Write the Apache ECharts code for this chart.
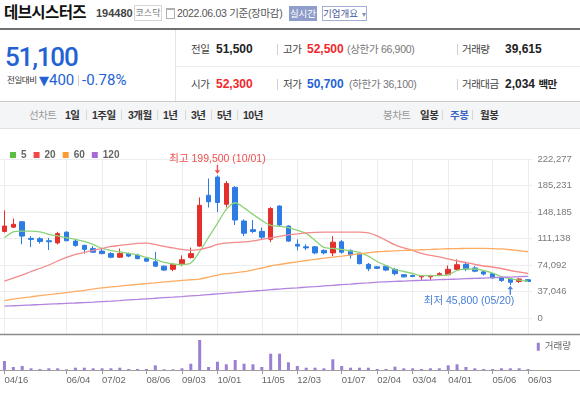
<!DOCTYPE html>
<html lang="ko">
<head>
<meta charset="utf-8">
<script src="https://cdn.jsdelivr.net/npm/echarts@6/dist/echarts.min.js"></script>
<style>
html,body{margin:0;padding:0;background:#fff;width:580px;height:397px;overflow:hidden;}
body{position:relative;font-family:"Liberation Sans",Arial,"Noto Sans CJK KR",sans-serif;color:#333;}
.a{position:absolute;white-space:nowrap;}
.lb{font-size:10.5px;color:#444;letter-spacing:-0.5px;line-height:16px;}
.vl{font-size:12px;font-weight:bold;color:#222;line-height:16px;}
.sub{font-size:10.5px;color:#777;letter-spacing:-0.3px;line-height:16px;}
.sep{width:1px;height:11px;background:#d0d0d0;}
.tb{font-size:10.5px;font-weight:bold;color:#333;letter-spacing:-0.5px;line-height:16px;top:107px;}
.tg{font-size:10.5px;color:#999;letter-spacing:-0.5px;line-height:16px;top:107px;}
.ts{width:1px;height:10px;background:#d8d8d8;top:110px;}
#chart{position:absolute;left:0;top:128px;width:580px;height:269px;}
</style>
</head>
<body>
<!-- 종목 제목 -->
<div class="a" style="left:4px;top:2px;font-size:15.5px;font-weight:bold;color:#111;letter-spacing:-0.6px;line-height:22px">데브시스터즈</div>
<div class="a" style="left:96px;top:6px;font-size:11px;font-weight:bold;color:#444;line-height:15px">194480</div>
<div class="a" style="left:134px;top:5px;width:26px;height:14px;border:1px solid #d5d5d5;font-size:9px;color:#777;line-height:14px;text-align:center">코스닥</div>
<div class="a" style="left:166px;top:8px;width:7px;height:8px;border:1px solid #b0b0b0;border-top:2px solid #b0b0b0"></div>
<div class="a" style="left:177px;top:6px;font-size:10.5px;color:#555;letter-spacing:-0.3px;line-height:15px">2022.06.03 기준(장마감)</div>
<div class="a" style="left:289px;top:6px;width:28px;height:15px;background:#8e9dc9;color:#fff;font-size:9.5px;line-height:15px;text-align:center">실시간</div>
<div class="a" style="left:322px;top:6px;width:43px;height:13px;border:1px solid #a3aed4;color:#4a5a9a;font-size:9.5px;line-height:13px;text-align:center">기업개요 <span style="font-size:7px;color:#8a96c0">▼</span></div>
<div class="a" style="left:0;top:28px;width:580px;height:2px;background:#707070"></div>

<!-- 시세 -->
<div class="a" style="left:175px;top:30px;width:1px;height:72px;background:#e3e3e3"></div>
<div class="a" style="left:176px;top:66px;width:404px;height:1px;background:#ececec"></div>
<div class="a" style="left:5px;top:40px;font-family:Roboto;font-size:26px;font-weight:500;color:#2462d4;letter-spacing:-1.2px;line-height:34px">51,100</div>
<div class="a" style="left:7px;top:73px;font-size:8.5px;color:#333;line-height:14px;letter-spacing:-0.4px">전일대비</div>
<div class="a" style="left:39px;top:70px;font-family:Roboto;font-size:15px;color:#2462d4;line-height:20px"><span style="font-size:13px;font-family:'DejaVu Sans'">▼</span>400</div>
<div class="a sep" style="left:78px;top:75px"></div>
<div class="a" style="left:82px;top:70px;font-family:Roboto;font-size:15px;color:#2462d4;line-height:20px">-0.78%</div>

<div class="a lb" style="left:191px;top:41px">전일</div>
<div class="a vl" style="left:216px;top:41px">51,500</div>
<div class="a sep" style="left:277px;top:44px"></div>
<div class="a lb" style="left:283px;top:41px">고가</div>
<div class="a vl" style="left:307px;top:41px;color:#f0282d">52,500</div>
<div class="a sub" style="left:347px;top:41px">(상한가 66,900)</div>
<div class="a sep" style="left:457px;top:44px"></div>
<div class="a lb" style="left:462px;top:41px">거래량</div>
<div class="a vl" style="left:505px;top:41px">39,615</div>

<div class="a lb" style="left:191px;top:76px">시가</div>
<div class="a vl" style="left:216px;top:76px;color:#f0282d">52,300</div>
<div class="a sep" style="left:277px;top:79px"></div>
<div class="a lb" style="left:283px;top:76px">저가</div>
<div class="a vl" style="left:307px;top:76px;color:#2462d4">50,700</div>
<div class="a sub" style="left:349px;top:76px">(하한가 36,100)</div>
<div class="a sep" style="left:457px;top:79px"></div>
<div class="a lb" style="left:462px;top:76px">거래대금</div>
<div class="a vl" style="left:505px;top:76px">2,034 <span style="font-weight:bold;font-size:10.5px;letter-spacing:-0.5px">백만</span></div>

<!-- 기간 선택 -->
<div class="a" style="left:0;top:101px;width:580px;height:26px;background:#f4f5f7;border-top:1px solid #c9c9c9;border-bottom:1px solid #e2e2e2"></div>
<div class="a tg" style="left:29px">선차트</div>
<div class="a tb" style="left:65px">1일</div>
<div class="a ts" style="left:86px"></div>
<div class="a tb" style="left:92px">1주일</div>
<div class="a ts" style="left:121px"></div>
<div class="a tb" style="left:128px">3개월</div>
<div class="a ts" style="left:157px"></div>
<div class="a tb" style="left:163px">1년</div>
<div class="a ts" style="left:185px"></div>
<div class="a tb" style="left:191px">3년</div>
<div class="a ts" style="left:211px"></div>
<div class="a tb" style="left:217px">5년</div>
<div class="a ts" style="left:237px"></div>
<div class="a tb" style="left:243px">10년</div>
<div class="a tg" style="left:383px">봉차트</div>
<div class="a tb" style="left:420px">일봉</div>
<div class="a ts" style="left:442px"></div>
<div class="a tb" style="left:450px;color:#3b63c4">주봉</div>
<div class="a ts" style="left:472px"></div>
<div class="a tb" style="left:480px">월봉</div>

<div id="chart"></div>
<script>
// 주봉 (week ending)
var weeks = ['04/16','04/23','04/30','05/07','05/14','05/21','05/28','06/04','06/11','06/18',
  '06/25','07/02','07/09','07/16','07/23','07/30','08/06','08/13','08/20','08/27',
  '09/03','09/10','09/17','09/24','10/01','10/08','10/15','10/22','10/29','11/05',
  '11/12','11/19','11/26','12/03','12/10','12/17','12/24','12/31','01/07','01/14',
  '01/21','01/28','02/04','02/11','02/18','02/25','03/04','03/11','03/18','03/25',
  '04/01','04/08','04/15','04/22','04/29','05/06','05/13','05/20','05/27','06/03'];
var tickDates = ['04/16','06/04','07/02','08/06','09/03','10/01','11/05','12/03','01/07','02/04','03/04','04/01','05/06','06/03'];
var priceTicks = ['0','37,046','74,092','111,138','148,185','185,231','222,277'];
var priceMax = 222277;

var opens = [121000,127000,134500,111300,110800,108000,105000,120000,107500,101500,
  97000,93500,90000,85000,90000,88000,83000,78500,72500,68000,
  75000,84500,100500,171500,197000,159000,182500,135500,123500,121000,
  110000,156500,128500,103000,99500,99500,94500,91000,106500,94500,
  90000,75000,71500,72500,68000,60500,59500,57500,57500,60500,
  60500,68000,75000,70000,64500,62000,56000,54500,51000,53500];
var closes = [128500,131000,114500,109900,107000,106600,118000,108000,101500,96000,
  92000,90000,85000,90000,86500,83000,79500,72500,67000,75000,
  81500,90000,157500,162500,161500,188000,137000,118500,121000,113000,
  153000,130000,107500,100500,98000,91000,91000,106000,92000,88000,
  76000,69000,69500,67000,62000,57500,58000,58500,59500,62000,
  68000,74500,68000,65500,61500,56000,52500,50000,54500,51100];
var lows = [119500,126000,103000,99000,104000,95000,103000,107500,99500,90000,
  91500,89000,83500,84000,85000,82000,78500,71500,66000,65500,
  72500,83000,99500,154500,148000,154500,130000,114500,118500,110000,
  106000,128500,106500,94500,95000,89000,89000,86500,90000,83000,
  75000,65500,68500,65500,59500,56500,57500,53000,53000,59500,
  60000,67000,65500,64000,59500,55500,50500,45800,49000,50500];
var highs = [150500,139000,135500,114500,113000,112000,120500,121000,110500,102500,
  100500,97000,92000,97000,91500,90000,85000,92500,73500,77000,
  87500,98500,168500,195000,199500,191500,184500,138000,137000,126500,
  155000,157500,129500,110000,103000,100500,96000,114500,109000,96000,
  91000,77000,72500,74000,70000,61000,60500,59000,60500,64000,
  73500,82000,77000,72500,66500,63000,58500,56000,56000,54000];

// 이동평균선
var ma5 = [112200,120400,121500,121500,120400,116900,114800,112200,109900,107000,
  102800,97200,94400,92300,90200,88100,84600,81800,77600,75500,
  74800,76900,93000,112700,132300,151900,161100,154000,144900,136500,
  129500,128100,126300,122500,118300,108500,98600,97200,95800,93700,
  91600,86400,79000,73400,67800,65000,62200,59300,59300,59300,
  60700,66400,68500,68500,66400,62900,57900,55100,52800,51400];
var ma20 = [51600,55800,60000,65000,69200,74100,79700,84600,88800,91600,
  94400,97200,100000,101400,102800,104200,104700,102800,100000,97900,
  95800,94400,95800,98600,102800,104900,105600,106300,107800,109900,
  112000,114100,116200,117600,119000,119700,120000,120100,120100,120100,
  120100,119000,114800,108500,102100,97900,94400,90200,87400,85300,
  82500,79700,77600,74800,72700,71300,69200,66400,64300,62200];
var ma60 = [24300,26400,28100,29600,31300,32700,34100,35500,37200,38700,
  40400,42100,43400,44600,45900,47000,48100,49200,50400,51500,
  52500,53500,54400,57200,60000,61900,63300,64700,67100,69900,
  72700,74800,76900,78600,80400,82100,83600,85200,86600,88100,
  89800,91200,92600,93300,93900,94400,95000,95400,95800,96400,
  96800,97100,97200,97200,97200,97100,96500,95400,94000,92600];
var ma120 = [16600,17100,17700,18200,18800,19400,19900,20500,21000,21600,
  22200,22900,23600,24400,25300,26000,26800,27600,28500,29200,
  30000,30900,31700,32700,33700,34700,35600,36600,37600,38600,
  39700,40500,41400,42200,43100,43900,44800,45700,46600,47400,
  48300,49100,50100,50600,51200,51600,52200,52600,53000,53600,
  54000,54400,55000,55400,55800,56400,56800,57200,57800,58200];

var volumes = [1800000,600000,800000,340000,200000,340000,340000,140000,460000,460000,
  340000,340000,340000,460000,200000,200000,200000,940000,140000,140000,
  340000,1260000,6000000,600000,1660000,1140000,2000000,1260000,1140000,600000,
  3260000,3260000,1540000,800000,460000,460000,340000,2140000,800000,460000,
  460000,460000,200000,200000,660000,340000,340000,200000,340000,340000,
  940000,1140000,600000,340000,200000,200000,340000,340000,340000,200000];

var highDate = '10/01', highPrice = 199500;
var lowDate = '05/20', lowPrice = 45800;

var upColor = '#e3302d', downColor = '#2d7be4';

function comma(v) { return String(v).replace(/\B(?=(\d{3})+(?!\d))/g, ','); }
function isTick(index, value) { return tickDates.indexOf(value) >= 0; }

var candles = weeks.map(function (d, i) { return [opens[i], closes[i], lows[i], highs[i]]; });

var dom = document.getElementById('chart');
var myChart = echarts.init(dom);
var option = {
    animation: false,
    textStyle: { fontFamily: '"Liberation Sans", Arial, "Noto Sans CJK KR", sans-serif' },
    legend: [{
        data: ['5', '20', '60', '120'],
        left: 5, top: 17,
        icon: 'rect', itemWidth: 6, itemHeight: 6, itemGap: 7,
        selectedMode: false,
        textStyle: { color: '#666', fontSize: 10, fontWeight: 'bold' }
    }, {
        data: ['거래량'],
        right: 4, top: 209,
        icon: 'rect', itemWidth: 3, itemHeight: 8,
        selectedMode: false,
        textStyle: { color: '#666', fontSize: 9.5 }
    }],
    grid: [
        { left: 0, right: 47.5, top: 31, bottom: 79 },          // 가격
        { left: 4.4375, right: 51.9375, top: 31, bottom: 63 },  // 세로 격자
        { left: 0, right: 47.5, top: 212, bottom: 27 }          // 거래량
    ],
    xAxis: [{
        type: 'category', gridIndex: 0, data: weeks,
        axisLine: { show: false }, axisTick: { show: false }, axisLabel: { show: false }, splitLine: { show: false }
    }, {
        type: 'category', gridIndex: 1, data: weeks, boundaryGap: false,
        axisLine: { show: false }, axisTick: { show: false }, axisLabel: { show: false },
        splitLine: { show: true, interval: isTick, lineStyle: { color: '#ededed', width: 1 } }
    }, {
        type: 'category', gridIndex: 2, data: weeks,
        axisLine: { show: false },
        axisTick: { show: true, interval: isTick, alignWithLabel: true, length: 4, lineStyle: { color: '#999' } },
        axisLabel: { interval: isTick, align: 'left', margin: 6, color: '#666', fontSize: 9.5 },
        splitLine: { show: false }
    }],
    yAxis: [{
        type: 'value', gridIndex: 0, position: 'right',
        min: 0, max: priceMax, interval: priceMax / 6,
        axisLine: { show: false }, axisTick: { show: false },
        axisLabel: {
            margin: 5, color: '#7a7a7a', fontSize: 9.5,
            formatter: function (v) { return priceTicks[Math.round(v / (priceMax / 6))]; }
        },
        splitLine: { lineStyle: { color: '#ededed' } }
    }, {
        type: 'value', gridIndex: 1, show: false
    }, {
        type: 'value', gridIndex: 2, show: false, min: 0, max: 'dataMax'
    }],
    graphic: [
        { type: 'line', shape: { x1: 0, y1: 206.5, x2: 580, y2: 206.5 }, style: { stroke: '#8c8c8c', lineWidth: 1.5 }, z: 10 },
        { type: 'line', shape: { x1: 0, y1: 242.5, x2: 580, y2: 242.5 }, style: { stroke: '#a0a0a0', lineWidth: 1 }, z: 10 }
    ],
    series: [{
        name: '주봉', type: 'candlestick', xAxisIndex: 0, yAxisIndex: 0,
        data: candles, barWidth: 5,
        itemStyle: { color: upColor, color0: downColor, borderColor: upColor, borderColor0: downColor, borderWidth: 1 },
        markPoint: {
            symbolKeepAspect: true,
            data: [{
                coord: [highDate, highPrice],
                symbol: 'path://M3,0 L5,0 L5,6 L8,6 L4,10 L0,6 L3,6 Z',
                symbolSize: [7, 9], symbolOffset: [0, -6],
                itemStyle: { color: '#f04f4f' },
                label: {
                    show: true, position: 'top', distance: 0, color: '#f04f4f', fontSize: 10.5,
                    formatter: '최고 ' + comma(highPrice) + ' (' + highDate + ')'
                }
            }, {
                coord: [lowDate, lowPrice],
                symbol: 'path://M4,0 L8,4 L5,4 L5,10 L3,10 L3,4 L0,4 Z',
                symbolSize: [7, 9], symbolOffset: [0, 5],
                itemStyle: { color: '#4a80d8' },
                label: {
                    show: true, position: 'bottom', distance: 1, align: 'right', offset: [4, 0],
                    color: '#4a80d8', fontSize: 10.5,
                    formatter: '최저 ' + comma(lowPrice) + ' (' + lowDate + ')'
                }
            }]
        }
    }, {
        name: '5', type: 'line', data: ma5, smooth: 0.3, showSymbol: false,
        itemStyle: { color: '#5cbf44' }, lineStyle: { color: '#8dd37a', width: 1.3 }
    }, {
        name: '20', type: 'line', data: ma20, smooth: 0.3, showSymbol: false,
        itemStyle: { color: '#f04848' }, lineStyle: { color: '#f48a8a', width: 1.3 }
    }, {
        name: '60', type: 'line', data: ma60, smooth: 0.3, showSymbol: false,
        itemStyle: { color: '#fd9a36' }, lineStyle: { color: '#ffac62', width: 1.3 }
    }, {
        name: '120', type: 'line', data: ma120, smooth: 0.3, showSymbol: false,
        itemStyle: { color: '#a56ad8' }, lineStyle: { color: '#b283df', width: 1.3 }
    }, {
        name: '거래량', type: 'bar', xAxisIndex: 2, yAxisIndex: 2,
        data: volumes, barWidth: 3,
        itemStyle: { color: '#9b7fd4' }
    }]
};
if (option && typeof option === "object") {
    myChart.setOption(option, true);
}
</script>
</body>
</html>
